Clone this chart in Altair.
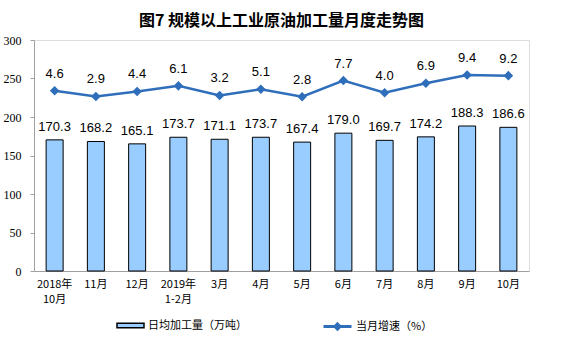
import altair as alt
import pandas as pd

months = ["2018年\n10月", "11月", "12月", "2019年\n1-2月", "3月", "4月", "5月",
          "6月", "7月", "8月", "9月", "10月"]
daily = [170.3, 168.2, 165.1, 173.7, 171.1, 173.7, 167.4, 179.0, 169.7, 174.2, 188.3, 186.6]
growth = [4.6, 2.9, 4.4, 6.1, 3.2, 5.1, 2.8, 7.7, 4.0, 6.9, 9.4, 9.2]

df = pd.DataFrame({"month": months, "daily": daily, "growth": growth})

bar_name = "日均加工量（万吨）"
line_name = "当月增速（%）"
blue = "#2F6EBA"

x = alt.X("month:N", sort=months, title=None,
          scale=alt.Scale(paddingInner=0.55, paddingOuter=0.275),
          axis=alt.Axis(labelAngle=0, labelExpr="split(datum.label, '\\n')",
                        labelFont="Noto Sans CJK SC", labelFontSize=11, labelColor="#000",
                        domainColor="#A0A0A0", ticks=False, labelPadding=7, labelLineHeight=15))

yl = alt.Y("daily:Q", title=None,
           scale=alt.Scale(domain=[0, 300], nice=False),
           axis=alt.Axis(values=[0, 50, 100, 150, 200, 250, 300], grid=False,
                         labelFont="Liberation Serif", labelFontSize=12, labelColor="#000",
                         domainColor="#A0A0A0", tickColor="#A0A0A0", tickSize=4, labelPadding=9))

bars = alt.Chart(df).mark_bar(size=17, stroke="#000", strokeWidth=1).encode(
    x=x, y=yl,
    fill=alt.Fill("series:N", scale=alt.Scale(domain=[bar_name], range=["#99CCFF"]),
                  legend=alt.Legend(title=None, orient="none", legendX=89, legendY=278, padding=0,
                                    symbolType="M-2,-0.35H2V0.35H-2Z", symbolSize=182,
                                    symbolStrokeColor="#000", symbolStrokeWidth=1.5,
                                    labelFont="Noto Sans CJK SC", labelFontSize=11,
                                    labelColor="#000", labelOffset=10))
).transform_calculate(series=f"'{bar_name}'")

bar_text = alt.Chart(df).mark_text(dy=-13, font="Liberation Sans", fontSize=13, color="#000").encode(
    x=x, y=yl, text=alt.Text("daily:Q", format=".1f"))

yr_scale = alt.Scale(domain=[-50, 20], nice=False)
yr = alt.Y("growth:Q", title=None, scale=yr_scale,
           axis=alt.Axis(orient="right", values=[-50, -40, -30, -20, -10, 0, 10, 20], grid=False,
                         labelFont="Liberation Serif", labelFontSize=12, labelColor="#000",
                         domainColor="#A0A0A0", tickColor="#A0A0A0", tickSize=3, labelPadding=7))

line = alt.Chart(df).mark_line(strokeWidth=2.5, color=blue,
                               point=alt.OverlayMarkDef(shape="diamond", size=45, fill=blue, color=blue)).encode(
    x=x, y=yr,
    stroke=alt.Stroke("series:N", scale=alt.Scale(domain=[line_name], range=[blue]),
                      legend=alt.Legend(title=None, orient="none", legendX=288, legendY=271, padding=0,
                                        symbolType="M-1,0H1M0,-0.18L0.18,0L0,0.18L-0.18,0Z",
                                        symbolSize=784, symbolStrokeWidth=3, symbolFillColor=blue,
                                        labelFont="Noto Sans CJK SC", labelFontSize=11,
                                        labelColor="#000", labelOffset=3))
).transform_calculate(series=f"'{line_name}'")

line_text = alt.Chart(df).mark_text(dy=-17, font="Liberation Sans", fontSize=13, color="#000").encode(
    x=x, y=alt.Y("growth:Q", scale=yr_scale, axis=None), text=alt.Text("growth:Q", format=".1f"))

left = alt.layer(bars, bar_text)
right = alt.layer(line, line_text)

chart = alt.layer(left, right).resolve_scale(y="independent", fill="independent", stroke="independent").properties(
    width=495, height=231,
    title=alt.TitleParams("图7 规模以上工业原油加工量月度走势图", font="Noto Sans CJK SC",
                          fontSize=16, fontWeight="bold", color="#000", anchor="middle", offset=5),
    autosize=alt.AutoSizeParams(type="none"),
    padding={"left": 34, "top": 40, "right": 32, "bottom": 86},
).configure_view(stroke=None).configure(background="white")

chart.save("out.html", embed_options={"renderer": "svg", "actions": False})
